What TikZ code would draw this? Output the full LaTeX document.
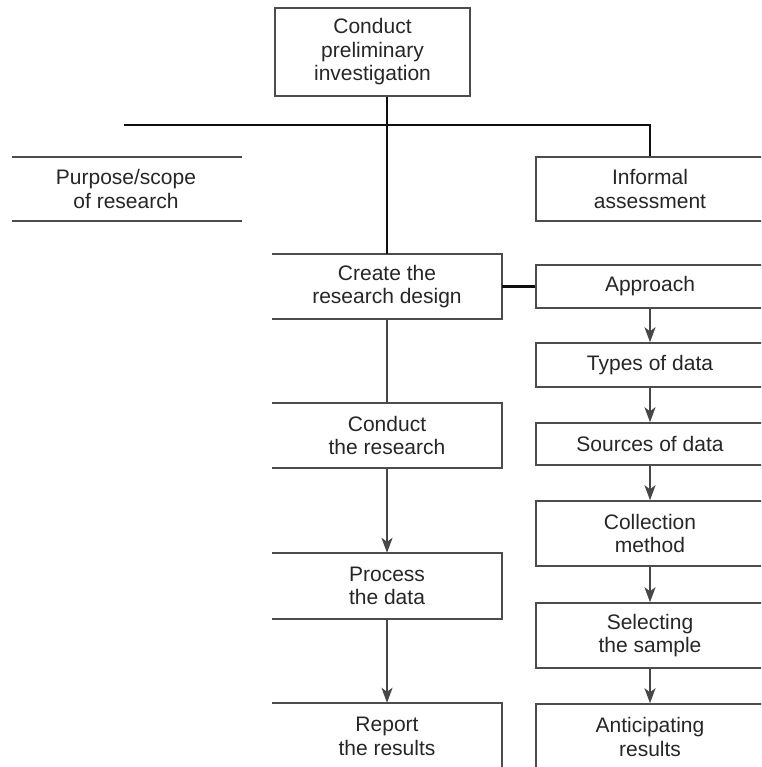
\documentclass[tikz,border=0pt]{standalone}
\usepackage{fontspec}
\setmainfont{Liberation Sans}
\usetikzlibrary{arrows.meta}
\definecolor{ink}{gray}{0.15}
\definecolor{edge}{gray}{0.30}
\definecolor{wire}{gray}{0.28}
\definecolor{bold}{gray}{0.06}
\begin{document}
\begin{tikzpicture}[x=1pt,y=-1pt,
  txt/.style={font=\fontsize{21}{23.5}\selectfont, text=ink, align=center, inner sep=0pt},
  frame/.style={draw=edge, line width=1.5pt},
  lcol/.style={txt, minimum width=230pt},
  rcol/.style={txt, minimum width=228pt, draw=edge, line width=1.5pt},
  heavy/.style={draw=bold, line width=2.4pt},
  light/.style={draw=bold, line width=1.4pt},
  link/.style={draw=wire, line width=2pt},
  flow/.style={draw=wire, line width=2pt, -{Stealth[length=15pt,width=11pt,inset=4pt]}},
]
\useasboundingbox (0,0) rectangle (761,767);
\clip (0,0) rectangle (761,767);

% main column
\node[txt, draw=edge, line width=1.5pt, minimum width=195pt, minimum height=88pt] (pre) at (372.5,52) {Conduct\\preliminary\\investigation};
\node[lcol, minimum height=65pt] (cre) at (387,286.5) {Create the\\research design};
\node[lcol, minimum height=65pt] (con) at (387,435.5) {Conduct\\the research};
\node[lcol, minimum height=66pt] (pro) at (387,586) {Process\\the data};
\node[lcol, minimum height=67pt] (rep) at (387,736.5) {Report\\the results};
\foreach \n in {cre,con,pro,rep}
  \draw[frame] (\n.north west) -- (\n.north east) -- (\n.south east) -- (\n.south west);

% purpose band
\node[txt] (pur) at (126,189) {Purpose/scope\\of research};
\coordinate (pl1) at (12,157);
\coordinate (pr1) at (242,157);
\coordinate (pl2) at (12,221);
\coordinate (pr2) at (242,221);
\draw[frame] (pl1) -- (pr1);
\draw[frame] (pl2) -- (pr2);

% design column
\node[rcol, minimum height=64pt] (inf) at (650,189) {Informal\\assessment};
\node[rcol, minimum height=43pt] (app) at (650,286.5) {Approach};
\node[rcol, minimum height=44pt] (typ) at (650,365) {Types of data};
\node[rcol, minimum height=42pt] (src) at (650,444) {Sources of data};
\node[rcol, minimum height=65pt] (col) at (650,533.5) {Collection\\method};
\node[rcol, minimum height=65pt] (sel) at (650,635.5) {Selecting\\the sample};
\node[rcol, minimum height=66pt] (ant) at (650,737) {Anticipating\\results};

% connectors
\coordinate (hl) at (124,125);
\coordinate (hm) at (533,125);
\draw[heavy] (pre.south -| cre.north) -- (cre.north);
\draw[heavy] (hl) -- (hm);
\draw[light] (hm) -- (hm -| inf.north) -- (inf.north);
\draw[heavy] (cre.east) -- (app.west);
\draw[link] (cre.south) -- (con.north);
\draw[flow] (con.south) -- (pro.north);
\draw[flow] (pro.south) -- (rep.north);
\draw[flow] (app.south) -- (typ.north);
\draw[flow] (typ.south) -- (src.north);
\draw[flow] (src.south) -- (col.north);
\draw[flow] (col.south) -- (sel.north);
\draw[flow] (sel.south) -- (ant.north);
\end{tikzpicture}
\end{document}
